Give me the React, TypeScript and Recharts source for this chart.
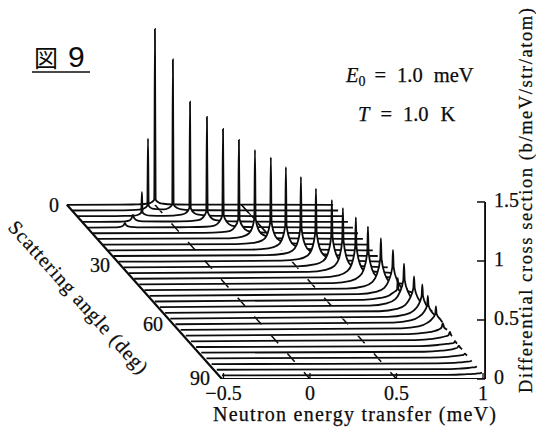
import React from 'react';
import { Area, ComposedChart, XAxis, YAxis } from 'recharts';

const SERIF = '"Liberation Serif", serif';
const INK = '#0c0c0c';

// scattering angle of each curve, 3 deg apart
const angles = [0, 3, 6, 9, 12, 15, 18, 21, 24, 27, 30, 33, 36, 39, 42, 45, 48, 51, 54, 57, 60, 63, 66, 69, 72, 75, 78, 81, 84, 87, 90];

// energy transfer (meV)
const energies: number[][] = [
  [-0.509, -0.2, -0.1, -0.05, -0.025, -0.004, 0, 0.004, 0.025, 0.05, 0.1, 0.2, 1.03],
  [-0.509, -0.27, -0.17, -0.12, -0.095, -0.074, -0.07, -0.066, -0.045, -0.02, 0.024, 0.049, 0.07, 0.074, 0.078, 0.099, 0.124, 0.174, 0.274, 1.029],
  [-0.509, -0.335, -0.235, -0.185, -0.16, -0.139, -0.135, -0.131, -0.11, -0.085, -0.05, 0, 0.093, 0.118, 0.139, 0.143, 0.147, 0.168, 0.193, 0.243, 0.343, 1.027],
  [-0.509, -0.3, -0.26, -0.24, -0.225, -0.217, -0.209, -0.19, -0.16, -0.05, 0.011, 0.111, 0.161, 0.186, 0.207, 0.211, 0.215, 0.236, 0.261, 0.311, 0.411, 1.026],
  [-0.509, -0.36, -0.32, -0.3, -0.293, -0.286, -0.26, -0.22, 0.074, 0.174, 0.224, 0.249, 0.27, 0.274, 0.278, 0.299, 0.324, 0.374, 0.474, 1.025],
  [-0.509, 0.136, 0.236, 0.286, 0.311, 0.332, 0.336, 0.34, 0.361, 0.386, 0.436, 0.536, 1.024],
  [-0.509, 0.199, 0.299, 0.349, 0.374, 0.395, 0.399, 0.403, 0.424, 0.449, 0.499, 0.599, 1.023],
  [-0.509, 0.261, 0.361, 0.411, 0.436, 0.457, 0.461, 0.465, 0.486, 0.511, 0.561, 0.661, 1.022],
  [-0.509, 0.318, 0.418, 0.468, 0.493, 0.514, 0.518, 0.522, 0.543, 0.568, 0.618, 0.718, 1.02],
  [-0.509, 0.375, 0.475, 0.525, 0.55, 0.571, 0.575, 0.579, 0.6, 0.625, 0.675, 0.775, 1.019],
  [-0.509, 0.432, 0.532, 0.582, 0.607, 0.628, 0.632, 0.636, 0.657, 0.682, 0.732, 0.832, 1.018],
  [-0.509, 0.494, 0.594, 0.644, 0.669, 0.69, 0.694, 0.698, 0.719, 0.744, 0.794, 0.894, 1.017],
  [-0.509, 0.528, 0.628, 0.678, 0.703, 0.724, 0.728, 0.732, 0.753, 0.778, 0.828, 0.928, 1.016],
  [-0.509, 0.573, 0.673, 0.723, 0.748, 0.769, 0.773, 0.777, 0.798, 0.823, 0.873, 0.973, 1.014],
  [-0.509, 0.613, 0.713, 0.763, 0.788, 0.809, 0.813, 0.817, 0.838, 0.863, 0.913, 1.013],
  [-0.509, 0.658, 0.758, 0.808, 0.833, 0.854, 0.858, 0.862, 0.883, 0.908, 0.958, 1.012],
  [-0.509, 0.698, 0.798, 0.848, 0.873, 0.894, 0.898, 0.902, 0.923, 0.948, 0.998, 1.011],
  [-0.509, 0.696, 0.796, 0.846, 0.871, 0.892, 0.896, 0.9, 0.921, 0.946, 0.996, 1.01],
  [-0.509, 0.702, 0.802, 0.852, 0.877, 0.898, 0.902, 0.906, 0.927, 0.952, 1.008],
  [-0.509, 0.73, 0.83, 0.88, 0.905, 0.926, 0.93, 0.934, 0.955, 0.98, 1.007],
  [-0.509, 0.748, 0.848, 0.898, 0.923, 0.944, 0.948, 0.952, 0.973, 0.998, 1.006],
  [-0.509, 0.75, 0.85, 0.9, 0.925, 0.946, 0.95, 0.954, 0.975, 1.005],
  [-0.509, 0.767, 0.867, 0.917, 0.942, 0.963, 0.967, 0.971, 0.992, 1.004],
  [-0.509, 0.777, 0.877, 0.927, 0.952, 0.969, 0.977, 0.985, 1.002],
  [-0.509, 0.788, 0.888, 0.938, 0.963, 0.98, 0.988, 0.996, 1.001],
  [-0.509, 0.788, 0.888, 0.938, 0.963, 0.98, 0.988, 0.996, 1],
  [-0.509, 0.78, 0.88, 0.93, 0.955, 0.972, 0.98, 0.988, 0.999],
  [-0.509, 0.785, 0.885, 0.935, 0.96, 0.977, 0.985, 0.993, 0.998],
  [-0.509, 0.795, 0.895, 0.945, 0.97, 0.987, 0.995],
  [-0.509, 0.794, 0.894, 0.944, 0.969, 0.986, 0.994],
  [-0.509, 0.794, 0.894, 0.944, 0.969, 0.986, 0.994],
];

// differential cross section (b/meV/str/atom) at those energies
const sections: number[][] = [
  [0.03, 0.032, 0.033, 0.039, 0.047, 0.073, 1.52, 0.073, 0.047, 0.039, 0.033, 0.032, 0.03],
  [0.03, 0.031, 0.033, 0.038, 0.046, 0.07, 0.64, 0.07, 0.046, 0.042, 0.04, 0.051, 0.081, 1.31, 0.081, 0.051, 0.04, 0.034, 0.032, 0.03],
  [0.03, 0.031, 0.032, 0.034, 0.04, 0.06, 0.235, 0.06, 0.04, 0.034, 0.033, 0.033, 0.043, 0.056, 0.098, 1.0, 0.098, 0.056, 0.043, 0.035, 0.032, 0.03],
  [0.03, 0.031, 0.034, 0.04, 0.06, 0.09, 0.06, 0.04, 0.034, 0.033, 0.033, 0.036, 0.044, 0.064, 0.115, 0.92, 0.115, 0.064, 0.044, 0.036, 0.033, 0.03],
  [0.03, 0.031, 0.036, 0.05, 0.07, 0.05, 0.036, 0.032, 0.033, 0.037, 0.047, 0.073, 0.132, 0.865, 0.132, 0.073, 0.047, 0.037, 0.033, 0.03],
  [0.03, 0.033, 0.039, 0.051, 0.081, 0.149, 0.82, 0.149, 0.081, 0.051, 0.039, 0.033, 0.03],
  [0.03, 0.034, 0.042, 0.062, 0.095, 0.2, 0.785, 0.2, 0.095, 0.062, 0.042, 0.034, 0.03],
  [0.03, 0.035, 0.045, 0.066, 0.105, 0.22, 0.77, 0.22, 0.105, 0.066, 0.045, 0.035, 0.03],
  [0.03, 0.036, 0.047, 0.07, 0.115, 0.24, 0.735, 0.24, 0.115, 0.07, 0.047, 0.036, 0.03],
  [0.03, 0.037, 0.049, 0.075, 0.123, 0.26, 0.7, 0.26, 0.123, 0.075, 0.049, 0.037, 0.03],
  [0.03, 0.039, 0.052, 0.08, 0.132, 0.28, 0.65, 0.28, 0.132, 0.08, 0.052, 0.039, 0.03],
  [0.03, 0.039, 0.055, 0.085, 0.14, 0.29, 0.6, 0.29, 0.14, 0.085, 0.055, 0.039, 0.03],
  [0.03, 0.04, 0.057, 0.09, 0.145, 0.3, 0.58, 0.3, 0.145, 0.09, 0.057, 0.04, 0.03],
  [0.03, 0.041, 0.059, 0.094, 0.15, 0.3, 0.55, 0.3, 0.15, 0.094, 0.059, 0.041, 0.03],
  [0.03, 0.042, 0.06, 0.098, 0.155, 0.3, 0.52, 0.3, 0.155, 0.098, 0.06, 0.036],
  [0.03, 0.043, 0.062, 0.098, 0.158, 0.29, 0.47, 0.29, 0.158, 0.098, 0.062, 0.038],
  [0.03, 0.044, 0.063, 0.098, 0.158, 0.27, 0.42, 0.27, 0.158, 0.098, 0.063, 0.056],
  [0.03, 0.044, 0.06, 0.081, 0.107, 0.132, 0.23, 0.132, 0.107, 0.081, 0.06, 0.056],
  [0.03, 0.044, 0.063, 0.098, 0.155, 0.26, 0.4, 0.26, 0.155, 0.098, 0.065],
  [0.03, 0.044, 0.063, 0.098, 0.15, 0.24, 0.34, 0.24, 0.15, 0.098, 0.08],
  [0.03, 0.044, 0.063, 0.098, 0.14, 0.22, 0.32, 0.22, 0.14, 0.098, 0.09],
  [0.03, 0.044, 0.062, 0.095, 0.13, 0.19, 0.27, 0.19, 0.13, 0.095],
  [0.03, 0.044, 0.06, 0.09, 0.12, 0.165, 0.23, 0.165, 0.12, 0.095],
  [0.03, 0.043, 0.055, 0.068, 0.081, 0.098, 0.135, 0.098, 0.081],
  [0.03, 0.041, 0.051, 0.064, 0.073, 0.081, 0.11, 0.081, 0.075],
  [0.03, 0.038, 0.047, 0.056, 0.06, 0.064, 0.08, 0.064, 0.06],
  [0.03, 0.038, 0.047, 0.056, 0.064, 0.073, 0.09, 0.073, 0.06],
  [0.03, 0.037, 0.043, 0.051, 0.056, 0.06, 0.07, 0.06, 0.055],
  [0.03, 0.036, 0.04, 0.047, 0.05, 0.054, 0.06],
  [0.03, 0.035, 0.04, 0.045, 0.05, 0.053, 0.06],
  [0.03, 0.035, 0.04, 0.043, 0.047, 0.05, 0.055],
];

const energyTicks = [-0.5, 0, 0.5, 1];
const sectionTicks = [0, 0.5, 1, 1.5];
const angleTicks = [0, 30, 60, 90];
const gridEnergies = [0, 0.5];

// waterfall shear: how far one 3 deg step moves a curve back on the page
const SHEAR_X = 0.02988;
const LIFT_Y = 0.0482;
const FLAT = 0.03;

const stepsBack = (angle: number) => (90 - angle) / 3;
const project = (energy: number, section: number, angle: number) => ({
  x: energy - stepsBack(angle) * SHEAR_X,
  y: section + stepsBack(angle) * LIFT_Y,
});

const curves = angles.map((angle, i) => ({
  angle,
  rows: energies[i].map((energy, j) => project(energy, sections[i][j], angle)),
}));

const depthAxis = [project(-0.509, FLAT, 0), project(-0.509, 0, 90)];
const energyAxis = [project(-0.509, 0, 90), project(1.012, 0, 90)];
const sectionAxis = [
  { x: 1.012, y: 0 },
  { x: 1.012, y: 1.5 },
];
// the 0.5 meV grid line runs unbroken at the back
const backGrid = [project(0.5, FLAT, 0), project(0.5, FLAT, 15)];

const XTick = ({ x, y, payload }: any) => (
  <g>
    <line x1={x} x2={x} y1={y - 6} y2={y} stroke={INK} strokeWidth={1.3} />
    <text x={x} y={y + 21} textAnchor="middle" fontFamily={SERIF} fontSize={20} fill={INK} stroke={INK} strokeWidth={0.25}>
      {payload.value < 0 ? `\u2212${-payload.value}` : payload.value}
    </text>
  </g>
);

const YTick = ({ x, y, payload }: any) => (
  <g>
    <line x1={x - 13} x2={x - 5} y1={y} y2={y} stroke={INK} strokeWidth={1.5} />
    <text x={x + 4} y={y + 5} fontFamily={SERIF} fontSize={20} fill={INK} stroke={INK} strokeWidth={0.25}>
      {payload.value}
    </text>
  </g>
);

const axisLine = (rows: { x: number; y: number }[], key: string, width = 1.9) => (
  <Area
    key={key}
    data={rows}
    dataKey="y"
    type="linear"
    stroke={INK}
    strokeWidth={width}
    fill="none"
    dot={false}
    activeDot={false}
    isAnimationActive={false}
  />
);

const angleLabelAt = [
  { x: 54, y: 212 },
  { x: 100, y: 272 },
  { x: 153, y: 331 },
  { x: 200, y: 385 },
];

export default function App() {
  return (
    <div style={{ position: 'absolute', left: 0, top: 0, width: 536, height: 427, overflow: 'hidden', background: '#fff' }}>
      <ComposedChart width={536} height={427} margin={{ top: 20, right: 0, bottom: 0, left: 0 }}>
        <XAxis
          dataKey="x"
          type="number"
          domain={[-1.792, 1.0405]}
          allowDataOverflow
          ticks={energyTicks}
          interval={0}
          height={48}
          axisLine={false}
          tickLine={false}
          tickSize={0}
          tickMargin={0}
          tick={<XTick />}
        />
        <YAxis
          orientation="right"
          type="number"
          domain={[0, 3.042]}
          allowDataOverflow
          ticks={sectionTicks}
          interval={0}
          width={46}
          axisLine={false}
          tickLine={false}
          tickSize={0}
          tickMargin={0}
          tick={<YTick />}
        />

        {gridEnergies.map((energy) => (
          <Area
            key={`grid-${energy}`}
            data={[project(energy, FLAT, 0), project(energy, 0, 90)]}
            dataKey="y"
            type="linear"
            stroke={INK}
            strokeWidth={1.5}
            strokeDasharray="11 13.9"
            fill="none"
            dot={false}
            activeDot={false}
            isAnimationActive={false}
          />
        ))}
        {axisLine(backGrid, 'back-grid', 1.2)}

        {curves.map((curve) => (
          <Area
            key={curve.angle}
            data={curve.rows}
            dataKey="y"
            type="monotone"
            baseValue={project(0, FLAT, curve.angle).y}
            stroke={INK}
            strokeWidth={1.8}
            fill="#fff"
            fillOpacity={1}
            dot={false}
            activeDot={false}
            isAnimationActive={false}
          />
        ))}

        {axisLine(depthAxis, 'depth', 2.2)}
        {axisLine(energyAxis, 'energy')}
        {axisLine(sectionAxis, 'section')}

        <g fontFamily={SERIF} fill={INK} stroke={INK} strokeWidth={0.25}>
          {angleTicks.map((angle, i) => (
            <text key={angle} x={angleLabelAt[i].x} y={angleLabelAt[i].y} textAnchor="middle" fontSize={20}>
              {angle}
            </text>
          ))}
          <text x={7} y={228} fontSize={20} textLength={198} transform="rotate(48 7 228)">
            Scattering angle (deg)
          </text>
          <text x={213} y={421} fontSize={20} textLength={283}>
            Neutron energy transfer (meV)
          </text>
          <text x={531.5} y={393} fontSize={18.5} textLength={385} transform="rotate(-90 531.5 393)">
            Differential cross section (b/meV/str/atom)
          </text>
          <text x={346} y={82} fontSize={20.5}>
            <tspan fontStyle="italic">E</tspan>
            <tspan fontSize={14} dy={4}>0</tspan>
            <tspan dy={-4} dx={9}>=</tspan>
            <tspan dx={11}>1.0</tspan>
            <tspan dx={11}>meV</tspan>
          </text>
          <text x={358} y={121} fontSize={20.5}>
            <tspan fontStyle="italic">T</tspan>
            <tspan dx={11}>=</tspan>
            <tspan dx={11}>1.0</tspan>
            <tspan dx={12}>K</tspan>
          </text>
        </g>
        <text x={34} y={67} fontFamily='"Noto Sans CJK JP", sans-serif' fontSize={24} fill={INK}>
          図
        </text>
        <text x={68} y={67} fontFamily='"Liberation Sans", sans-serif' fontSize={30} fill={INK}>
          9
        </text>
        <line x1={32} x2={90} y1={72} y2={72} stroke={INK} strokeWidth={1.6} />
      </ComposedChart>
    </div>
  );
}
